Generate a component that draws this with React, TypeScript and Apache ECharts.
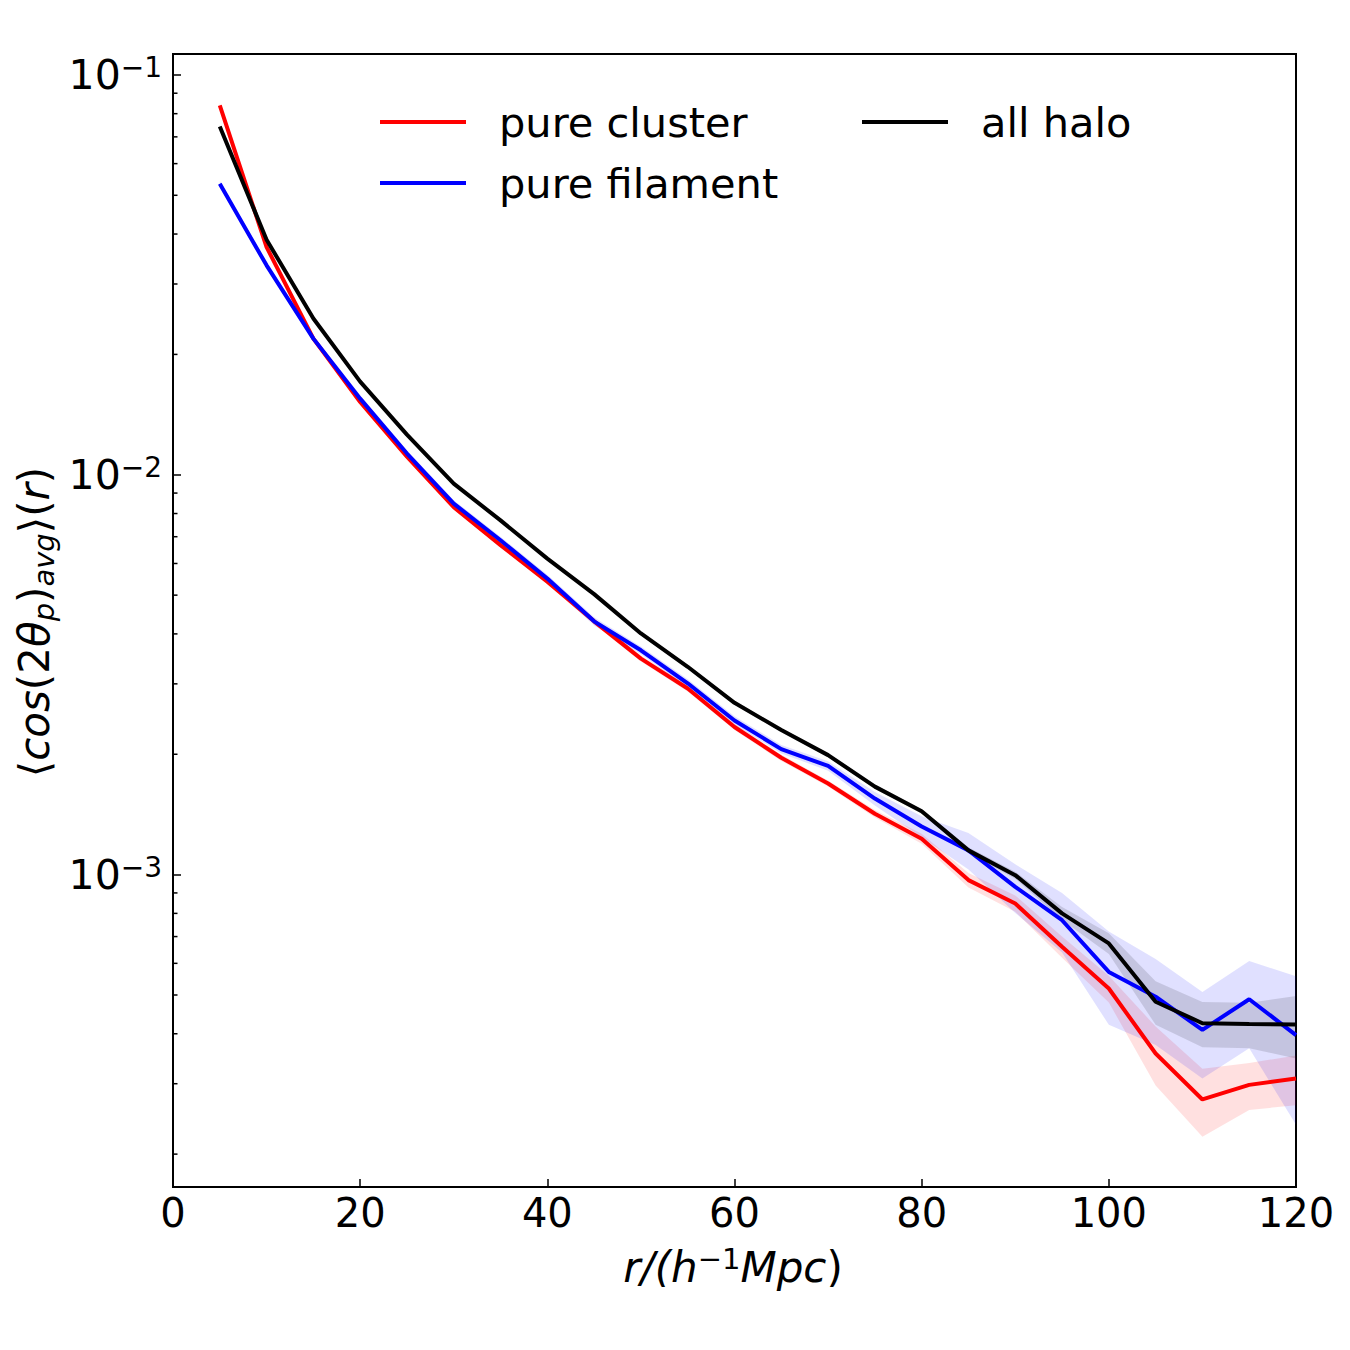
import { useEffect, useRef } from "react";
import * as echarts from "echarts";

// Separation bins r (h^-1 Mpc)
const radii = [5, 10, 15, 20, 25, 30, 35, 40, 45, 50, 55, 60, 65, 70, 75, 80, 85, 90, 95, 100, 105, 110, 115, 120];

// <cos(2 theta_p)>_avg for each sample
const clusterMean = [0.0839, 0.0371, 0.0219, 0.0152, 0.0111, 0.0083, 0.00667, 0.0054, 0.0043, 0.00347, 0.00292, 0.00234, 0.00196, 0.00169, 0.00142, 0.00123, 0.000969, 0.000847, 0.00066, 0.000519, 0.000357, 0.000274, 0.000298, 0.000309];
const filamentMean = [0.0534, 0.0334, 0.0219, 0.0155, 0.0113, 0.00847, 0.00686, 0.0055, 0.0043, 0.00364, 0.00301, 0.00243, 0.00206, 0.00187, 0.00155, 0.00132, 0.00115, 0.000932, 0.000769, 0.000571, 0.000495, 0.000409, 0.000488, 0.000397];
const haloMean = [0.0743, 0.0387, 0.0246, 0.0171, 0.0126, 0.0095, 0.00769, 0.00617, 0.00503, 0.00401, 0.00331, 0.00269, 0.0023, 0.00199, 0.00166, 0.00144, 0.00115, 0.000997, 0.0008, 0.000673, 0.000481, 0.000425, 0.000423, 0.000422];

// 1-sigma scatter, drawn as shaded bands
const clusterErr = [0.0013, 0.0006, 0.00035, 0.00024, 0.00018, 0.00013, 0.0001, 0.00008, 0.00007, 0.00006, 0.00005, 0.00004, 0.000035, 0.00003, 0.00003, 0.000035, 0.00004, 0.00004, 0.00004, 0.00004, 0.00006, 0.000053, 0.00004, 0.000044];
const filamentErr = [0.001, 0.0006, 0.0004, 0.0003, 0.00022, 0.00017, 0.00014, 0.00012, 0.0001, 0.00008, 0.00007, 0.00006, 0.00005, 0.00005, 0.00006, 0.00008, 0.00012, 0.00013, 0.00013, 0.00015, 0.00012, 0.0001, 0.00012, 0.00016];
const haloErr = [0.0008, 0.0004, 0.00025, 0.00017, 0.00013, 0.0001, 0.00008, 0.00006, 0.00005, 0.00004, 0.000035, 0.00003, 0.000025, 0.000022, 0.00002, 0.00002, 0.00002, 0.00002, 0.00003, 0.00004, 0.00006, 0.000055, 0.000055, 0.000075];

// Axis ranges and ticks
const xTicks = [0, 20, 40, 60, 80, 100, 120];
const yRange = [1.655e-4, 0.1128];
const yMinorTicks = [
  2e-4, 3e-4, 4e-4, 5e-4, 6e-4, 7e-4, 8e-4, 9e-4,
  2e-3, 3e-3, 4e-3, 5e-3, 6e-3, 7e-3, 8e-3, 9e-3,
  2e-2, 3e-2, 4e-2, 5e-2, 6e-2, 7e-2, 8e-2, 9e-2,
];

const FONT = "DejaVu Sans";

type Sample = { name: string; color: string; band: string; mean: number[]; err: number[] };
const samples: Sample[] = [
  { name: "pure cluster", color: "#ff0000", band: "rgba(255,0,0,0.12)", mean: clusterMean, err: clusterErr },
  { name: "pure filament", color: "#0000ff", band: "rgba(0,0,255,0.12)", mean: filamentMean, err: filamentErr },
  { name: "all halo", color: "#000000", band: "rgba(0,0,0,0.12)", mean: haloMean, err: haloErr },
];

function bandSeries(s: Sample) {
  const data = radii.map((r, i) => [r, s.mean[i] - s.err[i], s.mean[i] + s.err[i]]);
  return {
    type: "custom",
    name: s.name + " band",
    silent: true,
    z: 1,
    encode: { x: 0, y: [1, 2] },
    data,
    renderItem: (params: any, api: any) => {
      if (params.dataIndex !== 0) return null;
      const upper = data.map((d) => api.coord([d[0], d[2]]));
      const lower = data.map((d) => api.coord([d[0], d[1]])).reverse();
      return {
        type: "polygon",
        shape: { points: upper.concat(lower) },
        style: { fill: s.band, stroke: "none" },
      };
    },
  };
}

function lineSeries(s: Sample) {
  return {
    type: "line",
    name: s.name,
    z: 3,
    showSymbol: false,
    symbol: "none",
    data: radii.map((r, i) => [r, s.mean[i]]),
    itemStyle: { color: s.color },
    lineStyle: { color: s.color, width: 4 },
  };
}

const minorTickSeries = {
  type: "custom",
  silent: true,
  z: 5,
  encode: { x: 0, y: 1 },
  data: yMinorTicks.map((v) => [0, v]),
  renderItem: (_p: any, api: any) => {
    const p = api.coord([api.value(0), api.value(1)]);
    return {
      type: "line",
      shape: { x1: p[0], y1: p[1], x2: p[0] + 4.5, y2: p[1] },
      style: { stroke: "#000", lineWidth: 1.5 },
    };
  },
};

const legendText = {
  fontSize: 41.5,
  fontFamily: FONT,
  color: "#000",
  lineHeight: 44,
  padding: [0, 0, 0, 28],
};

export default function App() {
  const ref = useRef<HTMLDivElement>(null);

  useEffect(() => {
    if (!ref.current) return;
    const chart = echarts.init(ref.current, undefined, { renderer: "svg" });
    chart.setOption({
      animation: false,
      backgroundColor: "#ffffff",
      grid: {
        left: 173,
        right: 54,
        top: 54,
        bottom: 163,
        show: true,
        borderColor: "#000",
        borderWidth: 2,
        backgroundColor: "transparent",
      },
      legend: [
        {
          data: ["pure cluster", "pure filament"],
          orient: "vertical",
          left: 380,
          top: 100,
          padding: 0,
          itemWidth: 86,
          itemHeight: 4,
          itemGap: 17,
          icon: "rect",
          selectedMode: false,
          textStyle: legendText,
        },
        {
          data: ["all halo"],
          orient: "vertical",
          left: 862,
          top: 100,
          padding: 0,
          itemWidth: 86,
          itemHeight: 4,
          icon: "rect",
          selectedMode: false,
          textStyle: legendText,
        },
      ],
      xAxis: {
        type: "value",
        min: xTicks[0],
        max: xTicks[xTicks.length - 1],
        interval: 20,
        axisLine: { show: true, lineStyle: { color: "#000", width: 2 } },
        axisTick: { show: true, inside: true, length: 8, lineStyle: { color: "#000", width: 1.5 } },
        splitLine: { show: false },
        axisLabel: { fontSize: 40, fontFamily: FONT, color: "#000", margin: 6, lineHeight: 40 },
      },
      yAxis: {
        type: "log",
        logBase: 10,
        min: yRange[0],
        max: yRange[1],
        axisLine: { show: true, lineStyle: { color: "#000", width: 2 } },
        axisTick: { show: true, inside: true, length: 8, lineStyle: { color: "#000", width: 1.5 } },
        splitLine: { show: false },
        axisLabel: {
          margin: 11,
          color: "#000",
          formatter: (v: number) => {
            const e = Math.log10(v);
            if (Math.abs(e - Math.round(e)) > 1e-6) return "";
            return "{b|10}{s|\u2212" + String(-Math.round(e)) + "}";
          },
          rich: {
            b: { fontSize: 41, fontFamily: FONT, color: "#000", lineHeight: 42 },
            s: { fontSize: 28, fontFamily: FONT, color: "#000", lineHeight: 24, verticalAlign: "top" },
          },
        },
      },
      graphic: [
        {
          type: "text",
          x: 733,
          y: 1267,
          silent: true,
          style: {
            text: "{i|r/(h}{s|\u22121}{i|Mpc}{n|)}",
            align: "center",
            verticalAlign: "middle",
            fill: "#000",
            rich: {
              i: { fontSize: 42, fontFamily: FONT, fontStyle: "italic", lineHeight: 46 },
              n: { fontSize: 42, fontFamily: FONT, lineHeight: 46 },
              s: { fontSize: 29, fontFamily: FONT, lineHeight: 26, verticalAlign: "top" },
            },
          },
        },
        {
          type: "text",
          x: 34,
          y: 622,
          rotation: Math.PI / 2,
          silent: true,
          style: {
            text: "{n|\u27e8}{i|cos}{n|(2}{i|\u03b8}{sub|p}{n|)}{sub|avg}{n|\u27e9(}{i|r}{n|)}",
            align: "center",
            verticalAlign: "middle",
            fill: "#000",
            rich: {
              i: { fontSize: 42, fontFamily: FONT, fontStyle: "italic", lineHeight: 48 },
              n: { fontSize: 42, fontFamily: FONT, lineHeight: 48 },
              sub: { fontSize: 29, fontFamily: FONT, fontStyle: "italic", lineHeight: 27, verticalAlign: "bottom" },
            },
          },
        },
      ],
      series: [
        ...samples.map(bandSeries),
        ...samples.map(lineSeries),
        minorTickSeries,
      ],
    });
    return () => chart.dispose();
  }, []);

  return (
    <div
      ref={ref}
      style={{ position: "absolute", left: 0, top: 0, width: 1350, height: 1350, background: "#fff" }}
    />
  );
}
